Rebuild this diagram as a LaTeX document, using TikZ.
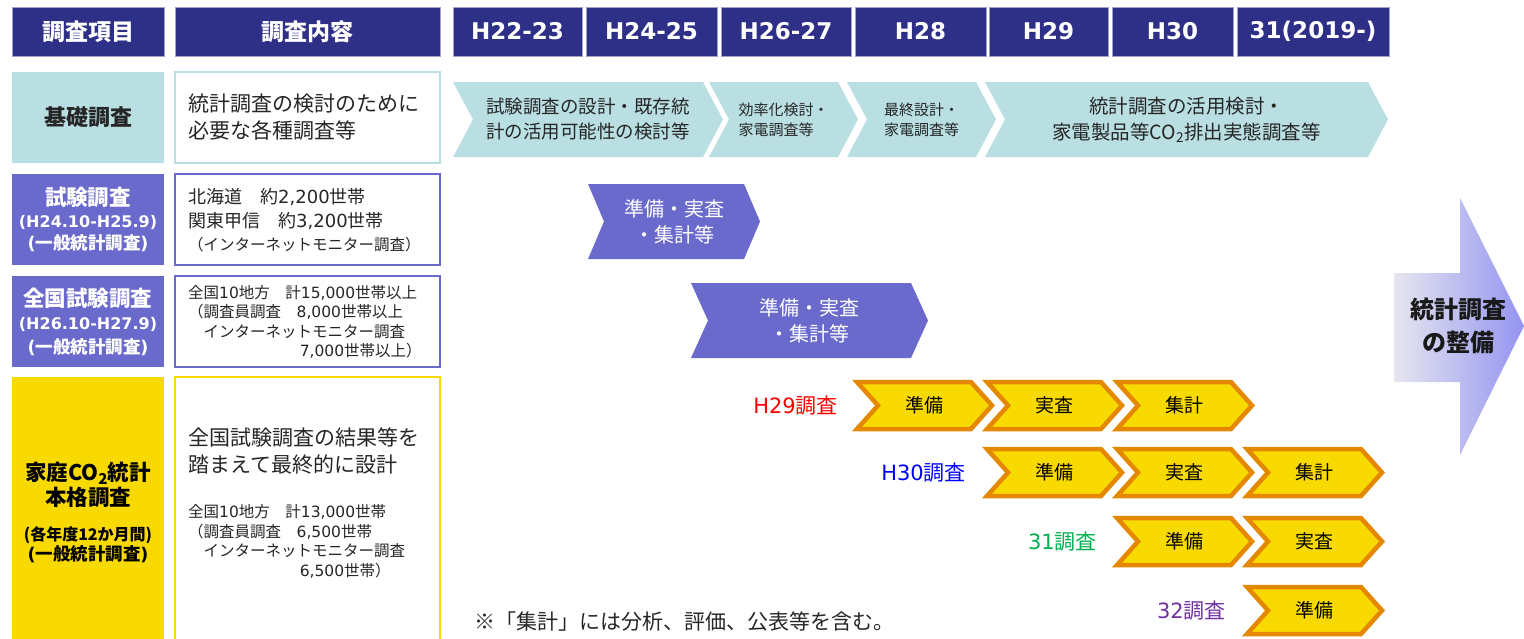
\documentclass[tikz,border=0pt]{standalone}
\usepackage{fontspec}
\setmainfont{Noto Sans CJK JP}
\newfontfamily\latinfont{DejaVu Sans}
\newcommand{\dig}[1]{{\latinfont #1}}
\usepackage{tikz}
\usetikzlibrary{calc}

\definecolor{navy}{HTML}{2E3088}
\definecolor{tealbox}{HTML}{B9DFE3}
\definecolor{violetbox}{HTML}{6A6ACC}
\definecolor{goldbox}{HTML}{F9DA00}
\definecolor{orangeline}{HTML}{E48800}
\definecolor{arrowleft}{HTML}{E6E6EF}
\definecolor{arrowright}{HTML}{9494F2}
\definecolor{greenlab}{HTML}{00B050}
\definecolor{purplelab}{HTML}{7030A0}

\newcommand{\stagechev}[9]{%
  \path[#1] (#4,#6) -- ({#5-#8},#6) -- (#5,{(#6+#7)/2}) -- ({#5-#8},#7) -- (#4,#7) -- ({#4+#8},{(#6+#7)/2}) -- cycle;
  \node[#2] (#3) at ({(#4+#5)/2},{(#6+#7)/2}) {#9};}

\tikzset{
  hd/.style={fill=navy, draw=navy!45, line width=0.8pt, text=white, inner sep=0pt,
    minimum height=49pt, font=\fontsize{23}{27}\selectfont\bfseries},
  itembox/.style={minimum width=152pt, inner sep=0pt, align=center},
  notebox/.style={minimum width=265pt, fill=white, line width=2.5pt, inner sep=0pt},
  notetext/.style={anchor=west, align=left, inner sep=0pt, text=black!85},
  teal chev/.style={fill=tealbox},
  teal text/.style={align=left, inner sep=0pt, text=black!85},
  violet chev/.style={fill=violetbox},
  violet text/.style={align=center, inner sep=0pt, text=white, font=\fontsize{20}{26}\selectfont},
  gold chev/.style={fill=goldbox, draw=orangeline, line width=4.5pt, line join=miter},
  gold text/.style={inner sep=0pt, text=black, font=\fontsize{19}{23}\selectfont},
  yearlab/.style={anchor=east, inner sep=0pt, font=\fontsize{21}{24}\selectfont},
}

\begin{document}
\begin{tikzpicture}[x=1pt, y=-1pt]
  \useasboundingbox (0,0) rectangle (1524,638);

  \node[hd, minimum width=152pt] (item) at (88,31.5) {調査項目};
  \node[hd, minimum width=265pt] (content) at (307.5,31.5) {調査内容};
  \foreach \nm/\cx/\w/\yr in {y1/517.5/129/H22-23, y2/651.5/131/H24-25, y3/786/130/H26-27,
      y4/920.5/131/H28, y5/1048.5/119/H29, y6/1172.5/121/H30, y7/1313/152/31(2019-)}
    \node[hd, minimum width=\w pt, font=\latinfont\fontsize{23}{27}\selectfont\bfseries] (\nm) at (\cx,31.5) {\yr};

  \node[itembox, fill=tealbox, minimum height=91pt, text=black!85,
    font=\fontsize{22}{26}\selectfont\bfseries] (kiso) at (88,117.5) {基礎調査};
  \node[notebox, draw=tealbox, minimum height=91pt] (kisobox) at (307.5,117.5) {};
  \node[notetext, font=\fontsize{21}{27}\selectfont] (kisotxt) at (188,117.5)
    {統計調査の検討のために\\必要な各種調査等};

  \node[itembox, fill=violetbox, minimum height=91pt, text=white,
    font=\fontsize{16}{22}\selectfont\bfseries] (shiken) at (88,219.5)
    {{\fontsize{21.5}{24}\selectfont 試験調査}\\{\latinfont (H24.10-H25.9)}\\{\fontsize{17.5}{22}\selectfont\dig{(}一般統計調査\dig{)}}};
  \node[notebox, draw=violetbox, minimum height=91pt] (shikenbox) at (307.5,219.5) {};
  \node[notetext, font=\fontsize{18}{23.5}\selectfont] (shikentxt) at (188,220.5)
    {北海道　約\dig{2,200}世帯\\関東甲信　約\dig{3,200}世帯\\{\fontsize{15.5}{20}\selectfont （インターネットモニター調査）}};

  \node[itembox, fill=violetbox, minimum height=91pt, text=white,
    font=\fontsize{16}{23.5}\selectfont\bfseries] (zenkoku) at (88,321.5)
    {{\fontsize{21.5}{24}\selectfont 全国試験調査}\\{\latinfont (H26.10-H27.9)}\\{\fontsize{17.5}{22}\selectfont\dig{(}一般統計調査\dig{)}}};
  \node[notebox, draw=violetbox, minimum height=91pt] (zenkokubox) at (307.5,321.5) {};
  \node[notetext, font=\fontsize{15.5}{19.4}\selectfont] (zenkokutxt) at (188,322)
    {全国\dig{10}地方　計\dig{15,000}世帯以上\\（調査員調査　\dig{8,000}世帯以上\\\hspace*{1em}インターネットモニター調査\\\hspace*{7.2em}\dig{7,000}世帯以上）};

  \node[itembox, fill=goldbox, minimum height=283pt] (honkaku) at (88,518.5) {};
  \node[align=center, text=black, font=\fontsize{21.5}{25}\selectfont\bfseries] (honkakutitle) at (88,484.5)
    {家庭CO\textsubscript{2}統計\\本格調査};
  \node[align=center, text=black, font=\fontsize{16}{19.5}\selectfont\bfseries] (honkakusub) at (88,544.5)
    {(各年度12か月間)\\{\fontsize{17.5}{19.5}\selectfont\dig{(}一般統計調査\dig{)}}};
  \node[notebox, draw=goldbox, minimum height=283pt] (honkakubox) at (307.5,518.5) {};
  \node[notetext, font=\fontsize{21}{27}\selectfont] (honkakutxt) at (188,451)
    {全国試験調査の結果等を\\踏まえて最終的に設計};
  \node[notetext, font=\fontsize{15.5}{19.7}\selectfont] (honkakudetail) at (188,541.5)
    {全国\dig{10}地方　計\dig{13,000}世帯\\（調査員調査　\dig{6,500}世帯\\\hspace*{1em}インターネットモニター調査\\\hspace*{7.2em}\dig{6,500}世帯）};

  \stagechev{teal chev}{teal text, font=\fontsize{18.5}{25}\selectfont}{kiso1}{453}{723}{82}{157}{20}
    {試験調査の設計・既存統\\計の活用可能性の検討等}
  \stagechev{teal chev}{teal text, font=\fontsize{15}{20}\selectfont}{kiso2}{709}{858}{82}{157}{20}
    {効率化検討・\\家電調査等}
  \stagechev{teal chev}{teal text, font=\fontsize{15}{20}\selectfont}{kiso3}{847}{996}{82}{157}{20}
    {最終設計・\\家電調査等}
  \stagechev{teal chev}{teal text, align=center, font=\fontsize{19.5}{26}\selectfont}{kiso4}{985}{1388}{82}{157}{20}
    {統計調査の活用検討・\\家電製品等CO\textsubscript{2}排出実態調査等}

  \stagechev{violet chev}{violet text}{shiken1}{588}{760}{184}{259}{16}{準備・実査\\・集計等}
  \stagechev{violet chev}{violet text}{zenkoku1}{691}{928}{283}{358}{17}{準備・実査\\・集計等}

  \stagechev{gold chev}{gold text}{h29a}{857}{992}{382}{429}{21}{準備}
  \stagechev{gold chev}{gold text}{h29b}{987}{1122}{382}{429}{21}{実査}
  \stagechev{gold chev}{gold text}{h29c}{1117}{1252}{382}{429}{21}{集計}
  \stagechev{gold chev}{gold text}{h30a}{987}{1122}{449}{496}{21}{準備}
  \stagechev{gold chev}{gold text}{h30b}{1117}{1252}{449}{496}{21}{実査}
  \stagechev{gold chev}{gold text}{h30c}{1247}{1382}{449}{496}{21}{集計}
  \stagechev{gold chev}{gold text}{r31a}{1117}{1252}{518}{565}{21}{準備}
  \stagechev{gold chev}{gold text}{r31b}{1247}{1382}{518}{565}{21}{実査}
  \stagechev{gold chev}{gold text}{r32a}{1247}{1382}{587}{634}{21}{準備}

  \node[yearlab, text=red] (lab29) at (838,406) {\dig{H29}調査};
  \node[yearlab, text=blue] (lab30) at (966,473) {\dig{H30}調査};
  \node[yearlab, text=greenlab] (lab31) at (1097,542) {\dig{31}調査};
  \node[yearlab, text=purplelab] (lab32) at (1226,611) {\dig{32}調査};

  \node[anchor=west, inner sep=0pt, text=black!85, font=\fontsize{21}{24}\selectfont] (note) at (474,622)
    {※「集計」には分析、評価、公表等を含む。};

  \shade[left color=arrowleft, right color=arrowright] (1394,273) -- (1460,273) -- (1460,198) -- (1524,326)
    -- (1460,455) -- (1460,382) -- (1394,382) -- cycle;
  \node[align=center, text=black!90, font=\fontsize{24}{33}\selectfont\bfseries] (seibi) at (1458,326)
    {統計調査\\の整備};
\end{tikzpicture}
\end{document}
